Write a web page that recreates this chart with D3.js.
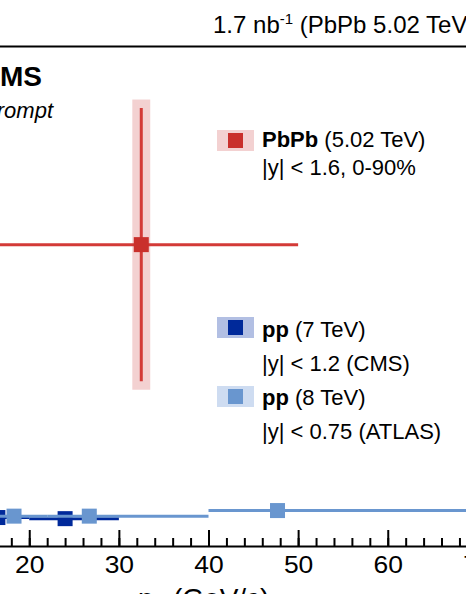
<!DOCTYPE html>
<html>
<head>
<meta charset="utf-8">
<script src="https://cdn.jsdelivr.net/npm/d3@7"></script>
<style>
  html, body { margin: 0; padding: 0; background: #fff; overflow: hidden; }
  svg { display: block; font-family: "Liberation Sans", Arial, Helvetica, sans-serif; }
</style>
</head>
<body>
<svg id="chart" width="466" height="594"></svg>
<script>
// X(3872)/psi(2S) prompt yield ratio versus pT

// PbPb 5.02 TeV (CMS)
const pbpbPt    = [32.5];
const pbpbLo    = [15];
const pbpbHi    = [50];
const pbpbRatio = [1.08];
const pbpbStat  = [0.49];
const pbpbSyst  = [0.52];

// pp 7 TeV (CMS, |y| < 1.2)
const pp7Pt    = [16.5, 24.0];
const pp7Lo    = [15, 20];
const pp7Hi    = [20, 30];
const pp7Ratio = [0.102, 0.098];

// pp 8 TeV (ATLAS, |y| < 0.75)
const pp8Pt    = [18.3, 26.7, 47.7];
const pp8Lo    = [16, 22, 40];
const pp8Hi    = [22, 40, 70];
const pp8Ratio = [0.107, 0.107, 0.127];

const xMajorTicks = [0, 10, 20, 30, 40, 50, 60, 70, 80];
const xMinorTicks = d3.range(0, 81, 2);

const colors = {
  pbpb:  "#c9302c", pbpbLine: "#d33a37", pbpbBox: "#f3d1d1",
  pp7:   "#00299a", pp7Box: "#b2bfe3",
  pp8:   "#6996cf", pp8Box: "#cedcf1"
};

const svg = d3.select("#chart");

const frame = { left: -150, right: 567, top: 46.5, bottom: 546 };

const x = d3.scaleLinear().domain([0, 80]).range([frame.left, frame.right]);
const y = d3.scaleLinear().domain([0, 1.79]).range([frame.bottom, frame.top]);

// frame (top edge)
svg.append("line")
  .attr("x1", frame.left).attr("x2", frame.right)
  .attr("y1", frame.top).attr("y2", frame.top)
  .attr("stroke", "#000").attr("stroke-width", 2);

// x axis: minor ticks, then major ticks with labels
svg.append("g")
  .attr("transform", `translate(0,${frame.bottom})`)
  .call(d3.axisBottom(x).tickValues(xMinorTicks).tickSize(-8).tickFormat(""))
  .call(g => g.select(".domain").remove())
  .call(g => g.selectAll("line").attr("stroke", "#000").attr("stroke-width", 2));

const xAxis = svg.append("g")
  .attr("transform", `translate(0,${frame.bottom})`)
  .call(d3.axisBottom(x).tickValues(xMajorTicks).tickSizeInner(-16).tickSizeOuter(0).tickPadding(11));
xAxis.select(".domain").attr("stroke", "#000").attr("stroke-width", 2.2);
xAxis.selectAll("line").attr("stroke", "#000").attr("stroke-width", 2);
xAxis.selectAll("text")
  .attr("fill", "#000")
  .attr("transform", "scale(1.15,1)")
  .style("font-size", "23px")
  .style("font-family", '"Liberation Sans", Arial, Helvetica, sans-serif');

// x axis title
const xt = svg.append("text")
  .attr("x", 138).attr("y", 608)
  .style("font-size", "28px").attr("fill", "#000");
xt.append("tspan").text("p");
xt.append("tspan").attr("dy", 6).style("font-size", "19px").text("T");
xt.append("tspan").attr("dy", -6).text(" (GeV/c)");

// luminosity label
const lumi = svg.append("text")
  .attr("x", 213).attr("y", 33)
  .style("font-size", "24px").attr("fill", "#000");
lumi.append("tspan").text("1.7 nb");
lumi.append("tspan").attr("dy", -9).style("font-size", "15px").text("-1");
lumi.append("tspan").attr("dy", 9).text(" (PbPb 5.02 TeV)");

// CMS label
svg.append("text")
  .attr("x", 42).attr("y", 86).attr("text-anchor", "end")
  .style("font-size", "28px").style("font-weight", "bold")
  .attr("fill", "#000").text("CMS");
svg.append("text")
  .attr("x", 53).attr("y", 118).attr("text-anchor", "end")
  .style("font-size", "22px").style("font-style", "italic")
  .attr("fill", "#000").text("Prompt");

const halfBox = 1;     // systematic box half-width in GeV
const mk = 15;         // marker size in px

// pp 7 TeV (drawn first)
const pp7 = pp7Pt.map((p, i) => ({ p, lo: pp7Lo[i], hi: pp7Hi[i], r: pp7Ratio[i] }));
svg.append("g").selectAll("line").data(pp7).join("line")
  .attr("x1", d => x(d.lo)).attr("x2", d => x(d.hi))
  .attr("y1", d => y(d.r)).attr("y2", d => y(d.r))
  .attr("stroke", colors.pp7).attr("stroke-width", 3);
svg.append("g").selectAll("rect").data(pp7).join("rect")
  .attr("x", d => x(d.p) - mk / 2).attr("y", d => y(d.r) - mk / 2)
  .attr("width", mk).attr("height", mk)
  .attr("fill", colors.pp7);

// pp 8 TeV
const pp8 = pp8Pt.map((p, i) => ({ p, lo: pp8Lo[i], hi: pp8Hi[i], r: pp8Ratio[i] }));
svg.append("g").selectAll("line").data(pp8).join("line")
  .attr("x1", d => x(d.lo)).attr("x2", d => x(d.hi))
  .attr("y1", d => y(d.r)).attr("y2", d => y(d.r))
  .attr("stroke", colors.pp8).attr("stroke-width", 3);
svg.append("g").selectAll("rect").data(pp8).join("rect")
  .attr("x", d => x(d.p) - mk / 2).attr("y", d => y(d.r) - mk / 2)
  .attr("width", mk).attr("height", mk)
  .attr("fill", colors.pp8);

// PbPb point with systematic box
const pbpb = pbpbPt.map((p, i) => ({ p, lo: pbpbLo[i], hi: pbpbHi[i], r: pbpbRatio[i], st: pbpbStat[i], sy: pbpbSyst[i] }));
const gPb = svg.append("g");
gPb.selectAll("rect.syst").data(pbpb).join("rect").attr("class", "syst")
  .attr("x", d => x(d.p - halfBox)).attr("width", d => x(d.p + halfBox) - x(d.p - halfBox))
  .attr("y", d => y(d.r + d.sy)).attr("height", d => y(d.r - d.sy) - y(d.r + d.sy))
  .attr("fill", colors.pbpbBox);
gPb.selectAll("line.h").data(pbpb).join("line").attr("class", "h")
  .attr("x1", d => x(d.lo)).attr("x2", d => x(d.hi))
  .attr("y1", d => y(d.r)).attr("y2", d => y(d.r))
  .attr("stroke", colors.pbpbLine).attr("stroke-width", 3);
gPb.selectAll("line.v").data(pbpb).join("line").attr("class", "v")
  .attr("x1", d => x(d.p)).attr("x2", d => x(d.p))
  .attr("y1", d => y(d.r + d.st)).attr("y2", d => y(d.r - d.st))
  .attr("stroke", colors.pbpbLine).attr("stroke-width", 3);
gPb.selectAll("rect.m").data(pbpb).join("rect").attr("class", "m")
  .attr("x", d => x(d.p) - mk / 2).attr("y", d => y(d.r) - mk / 2)
  .attr("width", mk).attr("height", mk)
  .attr("fill", colors.pbpb);

// legend
const legend = [
  { top: 130, box: colors.pbpbBox, fill: colors.pbpb, bold: "PbPb", rest: " (5.02 TeV)", l1: 147, sub: "|y| < 1.6, 0-90%", l2: 175 },
  { top: 317, box: colors.pp7Box, fill: colors.pp7, bold: "pp", rest: " (7 TeV)", l1: 337, sub: "|y| < 1.2 (CMS)", l2: 371 },
  { top: 386, box: colors.pp8Box, fill: colors.pp8, bold: "pp", rest: " (8 TeV)", l1: 405, sub: "|y| < 0.75 (ATLAS)", l2: 439 }
];
const lg = svg.append("g").selectAll("g").data(legend).join("g");
lg.append("rect").attr("x", 217).attr("y", d => d.top).attr("width", 37).attr("height", 21)
  .attr("fill", d => d.box);
lg.append("rect").attr("x", 228).attr("y", d => d.top + 3).attr("width", mk).attr("height", mk)
  .attr("fill", d => d.fill);
const t1 = lg.append("text").attr("x", 262).attr("y", d => d.l1)
  .style("font-size", "22px").attr("fill", "#000");
t1.append("tspan").style("font-weight", "bold").text(d => d.bold);
t1.append("tspan").text(d => d.rest);
lg.append("text").attr("x", 262).attr("y", d => d.l2)
  .style("font-size", "22px").attr("fill", "#000").text(d => d.sub);
</script>
</body>
</html>
